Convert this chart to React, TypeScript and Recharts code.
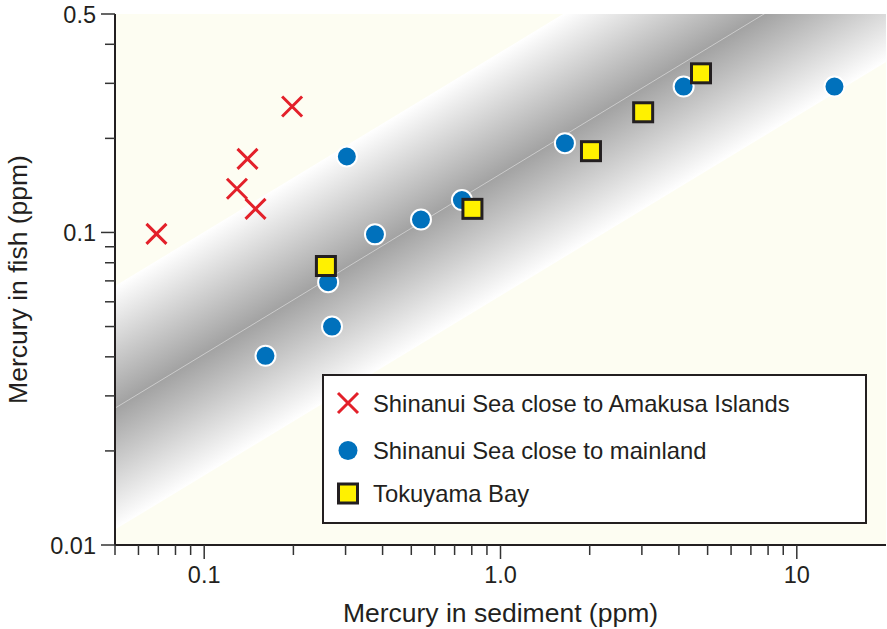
import React from 'react';
import {
  ComposedChart,
  Scatter,
  Area,
  XAxis,
  YAxis,
  CartesianGrid,
  ReferenceLine,
  Legend,
  Label,
} from 'recharts';

// ---------- data ----------
const X_DOMAIN = [0.05, 20];
const Y_DOMAIN = [0.01, 0.5];

const X_TICKS = [
  0.05, 0.06, 0.07, 0.08, 0.09, 0.1, 0.2, 0.3, 0.4, 0.5, 0.6, 0.7, 0.8, 0.9, 1, 2, 3, 4, 5, 6, 7, 8, 9, 10,
];
const X_MAJOR = [0.1, 1, 10];
const X_MAJOR_LABELS = ['0.1', '1.0', '10'];

const Y_TICKS = [0.01, 0.02, 0.03, 0.04, 0.05, 0.06, 0.07, 0.08, 0.09, 0.1, 0.2, 0.3, 0.4, 0.5];
const Y_MAJOR = [0.01, 0.1, 0.5];
const Y_MAJOR_LABELS = ['0.01', '0.1', '0.5'];

const AMAKUSA_X = [0.069, 0.129, 0.149, 0.14, 0.198];
const AMAKUSA_Y = [0.099, 0.138, 0.119, 0.172, 0.253];

const MAINLAND_X = [0.161, 0.262, 0.27, 0.303, 0.377, 0.539, 0.741, 1.65, 4.15, 13.4];
const MAINLAND_Y = [0.0403, 0.0693, 0.05, 0.175, 0.0986, 0.11, 0.127, 0.193, 0.293, 0.293];

const TOKUYAMA_X = [0.2575, 0.804, 2.02, 3.03, 4.75];
const TOKUYAMA_Y = [0.0781, 0.119, 0.182, 0.2424, 0.323];

const BAND_X = [0.05, 20];
const BAND_LOW = [0.0112, 0.351];
const BAND_MID = [0.0274, 0.863];
const BAND_HIGH = [0.0674, 2.12];

const SERIES_NAMES = [
  'Shinanui Sea close to Amakusa Islands',
  'Shinanui Sea close to mainland',
  'Tokuyama Bay',
];

// ---------- styling / layout ----------
const W = 887;
const H = 629;
const MARGIN = { top: 14, right: 1, bottom: 0, left: 0 };
const Y_AXIS_W = 115;
const X_AXIS_H = 84;
const FONT = '"Liberation Sans", Arial, Helvetica, sans-serif';
const INK = '#231f20';
const RED = '#e3202a';
const BLUE = '#0071bc';
const YELLOW = '#fff100';
const CREAM = '#fdfdf2';

const amakusaData = AMAKUSA_X.map((x, i) => ({ x, y: AMAKUSA_Y[i] }));
const mainlandData = MAINLAND_X.map((x, i) => ({ x, y: MAINLAND_Y[i] }));
const tokuyamaData = TOKUYAMA_X.map((x, i) => ({ x, y: TOKUYAMA_Y[i] }));
const bandData = BAND_X.map((x, i) => ({ x, band: [BAND_LOW[i], BAND_HIGH[i]] }));

// plot geometry (used only to orient the band's gradient)
const PLOT_L = MARGIN.left + Y_AXIS_W;
const PLOT_R = W - MARGIN.right;
const PLOT_T = MARGIN.top;
const PLOT_B = H - MARGIN.bottom - X_AXIS_H;
const lg = Math.log10;
const px = (v: number) =>
  PLOT_L + ((lg(v) - lg(X_DOMAIN[0])) / (lg(X_DOMAIN[1]) - lg(X_DOMAIN[0]))) * (PLOT_R - PLOT_L);
const py = (v: number) =>
  PLOT_B - ((lg(v) - lg(Y_DOMAIN[0])) / (lg(Y_DOMAIN[1]) - lg(Y_DOMAIN[0]))) * (PLOT_B - PLOT_T);

const S = { x: px(BAND_X[0]), y: py(BAND_HIGH[0]) };
const L0 = { x: px(BAND_X[0]), y: py(BAND_LOW[0]) };
const L1 = { x: px(BAND_X[1]), y: py(BAND_LOW[1]) };
const dLen = Math.hypot(L1.x - L0.x, L1.y - L0.y);
const dir = { x: (L1.x - L0.x) / dLen, y: (L1.y - L0.y) / dLen };
const nrm = { x: -dir.y, y: dir.x };
const gLen = (L0.y - S.y) * nrm.y;
const E = { x: S.x + nrm.x * gLen, y: S.y + nrm.y * gLen };

// ---------- shapes ----------
const CrossShape = (props: any) => {
  const { cx, cy } = props;
  const s = 10;
  return (
    <path
      d={`M${cx - s},${cy - s}L${cx + s},${cy + s}M${cx - s},${cy + s}L${cx + s},${cy - s}`}
      stroke={RED}
      strokeWidth={3}
      fill="none"
    />
  );
};

const CircleShape = (props: any) => {
  const { cx, cy } = props;
  return <circle cx={cx} cy={cy} r={10} fill={BLUE} stroke="#ffffff" strokeWidth={2} />;
};

const SquareShape = (props: any) => {
  const { cx, cy } = props;
  return (
    <rect x={cx - 9.5} y={cy - 9.5} width={19} height={19} fill={YELLOW} stroke={INK} strokeWidth={3} />
  );
};

// ---------- ticks ----------
const XTick = (props: any) => {
  const { x, y, payload } = props;
  const v = payload.value;
  const idx = X_MAJOR.findIndex((m) => Math.abs(m - v) < 1e-9);
  const major = idx >= 0;
  return (
    <g>
      <line x1={x} y1={y} x2={x} y2={y + (major ? 14 : 10)} stroke="#333" strokeWidth={1.5} />
      {major && (
        <text x={x} y={y + 38} textAnchor="middle" fontFamily={FONT} fontSize={23.5} fill={INK}>
          {X_MAJOR_LABELS[idx]}
        </text>
      )}
    </g>
  );
};

const YTick = (props: any) => {
  const { x, y, payload } = props;
  const v = payload.value;
  const idx = Y_MAJOR.findIndex((m) => Math.abs(m - v) < 1e-9);
  const major = idx >= 0;
  return (
    <g>
      <line x1={x} y1={y} x2={x - (major ? 14 : 10)} y2={y} stroke="#333" strokeWidth={1.5} />
      {major && (
        <text x={x - 19} y={y + 8.5} textAnchor="end" fontFamily={FONT} fontSize={23.5} fill={INK}>
          {Y_MAJOR_LABELS[idx]}
        </text>
      )}
    </g>
  );
};

const XLabel = (props: any) => {
  const vb = props.viewBox || { x: PLOT_L, y: PLOT_B, width: PLOT_R - PLOT_L, height: X_AXIS_H };
  return (
    <text
      x={vb.x + vb.width / 2}
      y={vb.y + 77}
      textAnchor="middle"
      fontFamily={FONT}
      fontSize={26.5}
      fill={INK}
    >
      Mercury in sediment (ppm)
    </text>
  );
};

const YLabel = (props: any) => {
  const vb = props.viewBox || { x: 0, y: PLOT_T, width: Y_AXIS_W, height: PLOT_B - PLOT_T };
  const cx = vb.x + 27;
  const cy = vb.y + vb.height / 2;
  return (
    <text
      x={cx}
      y={cy}
      transform={`rotate(-90 ${cx} ${cy})`}
      textAnchor="middle"
      fontFamily={FONT}
      fontSize={26.5}
      fill={INK}
    >
      Mercury in fish (ppm)
    </text>
  );
};

// ---------- legend ----------
const LegendBox = () => (
  <svg width={545} height={150} style={{ display: 'block' }}>
    <rect x={1} y={1} width={543} height={148} fill="#ffffff" stroke={INK} strokeWidth={2} />
    <path d="M16,19L36,39M16,39L36,19" stroke={RED} strokeWidth={3} fill="none" />
    <circle cx={26} cy={76.5} r={9.5} fill={BLUE} />
    <rect x={16.5} y={110} width={19} height={19} fill={YELLOW} stroke={INK} strokeWidth={3} />
    {SERIES_NAMES.map((name, i) => (
      <text
        key={name}
        x={51}
        y={[38, 84.5, 127.5][i]}
        fontFamily={FONT}
        fontSize={23.8}
        fill={INK}
      >
        {name}
      </text>
    ))}
  </svg>
);

export default function App() {
  return (
    <div style={{ position: 'absolute', left: 0, top: 0, width: W, height: H, background: '#ffffff' }}>
      <ComposedChart width={W} height={H} margin={MARGIN}>
        <defs>
          <linearGradient id="bandGrad" gradientUnits="userSpaceOnUse" x1={S.x} y1={S.y} x2={E.x} y2={E.y}>
            <stop offset="0" stopColor="#ffffff" />
            <stop offset="0.5" stopColor="#a2a2a2" />
            <stop offset="1" stopColor="#ffffff" />
          </linearGradient>
        </defs>
        <CartesianGrid horizontal={false} vertical={false} fill={CREAM} fillOpacity={1} />
        <XAxis
          dataKey="x"
          type="number"
          scale="log"
          domain={X_DOMAIN}
          allowDataOverflow
          ticks={X_TICKS}
          interval={0}
          tickSize={0}
          tickMargin={0}
          tickLine={false}
          tick={<XTick />}
          axisLine={{ stroke: INK, strokeWidth: 2 }}
          height={X_AXIS_H}
        >
          <Label content={<XLabel />} />
        </XAxis>
        <YAxis
          type="number"
          scale="log"
          domain={Y_DOMAIN}
          allowDataOverflow
          ticks={Y_TICKS}
          interval={0}
          tickSize={0}
          tickMargin={0}
          tickLine={false}
          tick={<YTick />}
          axisLine={{ stroke: INK, strokeWidth: 2 }}
          width={Y_AXIS_W}
        >
          <Label content={<YLabel />} />
        </YAxis>
        <XAxis
          xAxisId="top"
          orientation="top"
          type="number"
          domain={[0, 1]}
          height={0}
          tick={false}
          tickLine={false}
          axisLine={{ stroke: INK, strokeWidth: 2 }}
        />
        <YAxis
          yAxisId="right"
          orientation="right"
          type="number"
          domain={[0, 1]}
          width={0}
          tick={false}
          tickLine={false}
          axisLine={{ stroke: INK, strokeWidth: 2 }}
        />
        <Area
          data={bandData}
          dataKey="band"
          type="linear"
          fill="url(#bandGrad)"
          fillOpacity={1}
          stroke="none"
          dot={false}
          activeDot={false}
          legendType="none"
          isAnimationActive={false}
        />
        <ReferenceLine
          segment={[
            { x: BAND_X[0], y: BAND_MID[0] },
            { x: BAND_X[1], y: BAND_MID[1] },
          ]}
          ifOverflow="hidden"
          stroke="#d6d6d6"
          strokeWidth={0.8}
        />
        <Scatter
          name={SERIES_NAMES[1]}
          data={mainlandData}
          dataKey="y"
          shape={<CircleShape />}
          isAnimationActive={false}
        />
        <Scatter
          name={SERIES_NAMES[2]}
          data={tokuyamaData}
          dataKey="y"
          shape={<SquareShape />}
          isAnimationActive={false}
        />
        <Scatter
          name={SERIES_NAMES[0]}
          data={amakusaData}
          dataKey="y"
          shape={<CrossShape />}
          isAnimationActive={false}
        />
        <Legend
          layout="vertical"
          align="center"
          verticalAlign="middle"
          wrapperStyle={{ left: 322, top: 374, width: 545, height: 150 }}
          content={() => <LegendBox />}
        />
      </ComposedChart>
    </div>
  );
}
